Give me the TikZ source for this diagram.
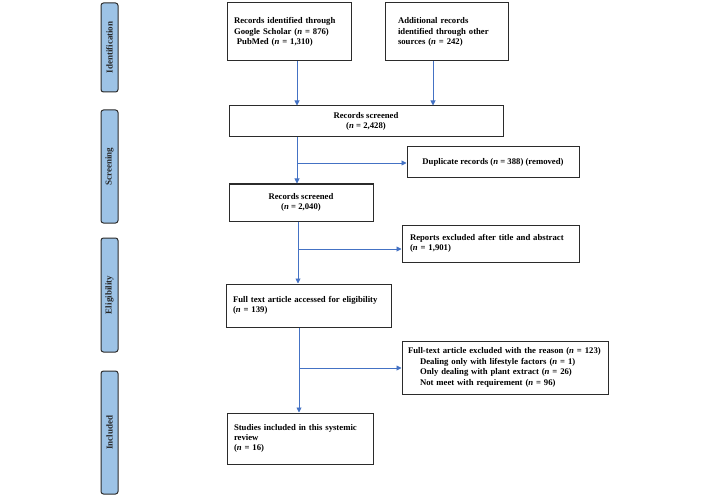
\documentclass[tikz,border=0pt]{standalone}
\usepackage{fontspec}
\setmainfont{Liberation Serif}
\usetikzlibrary{arrows.meta}
\definecolor{arrblue}{HTML}{4472C4}
\definecolor{lblue}{HTML}{9DC3E6}
\definecolor{edge}{HTML}{2B2B2B}
\tikzset{
  box/.style={draw=edge, line width=1pt, font=\bfseries\fontsize{8.7}{10.4}\selectfont, inner sep=0pt, anchor=center},
  phase/.style={draw=edge, fill=lblue, line width=1pt, rounded corners=2.5pt, rotate=90, minimum height=17pt, inner sep=0pt, font=\bfseries\fontsize{9}{10}\selectfont, text=black!85},
  arr/.style={draw=arrblue, line width=0.9pt, -{Triangle[length=5pt,width=5pt]}},
}
\begin{document}
\begin{tikzpicture}[x=1pt,y=-1pt]
\useasboundingbox (0,0) rectangle (706,497);
% phase labels
\node[phase, minimum width=89pt] (pid) at (109.5,47.5) {Identification};
\node[phase, minimum width=113pt] (psc) at (109.5,166.5) {Screening};
\node[phase, minimum width=114pt] (pel) at (109.5,295) {Eligibility};
\node[phase, minimum width=123pt] (pin) at (109.5,432.5) {Included};
% boxes
\node[box, minimum width=124pt, minimum height=58pt, text width=110pt, align=left] (b1) at (289,32)
  {Records identified through\\Google Scholar (\textit{n} = 876)\\\ PubMed (\textit{n} = 1,310)};
\node[box, minimum width=123pt, minimum height=58pt, text width=98pt, align=left] (b2) at (447,32)
  {Additional records\\identified through other\\sources (\textit{n} = 242)};
\node[box, minimum width=274pt, minimum height=31pt, align=center] (b3) at (366,121.5)
  {Records screened\\(\textit{n} = 2,428)};
\node[box, minimum width=172pt, minimum height=31pt, align=center] (dup) at (493,162.5)
  {Duplicate records (\textit{n} = 388) (removed)};
\node[box, minimum width=144pt, minimum height=37pt, align=center] (b4) at (301,202.5)
  {Records screened\\(\textit{n} = 2,040)};
\node[box, minimum width=177pt, minimum height=37pt, text width=161pt, align=left] (rep) at (490.5,243.5)
  {Reports excluded after title and abstract\\(\textit{n} = 1,901)};
\node[box, minimum width=165pt, minimum height=43pt, text width=151pt, align=left] (b5) at (308.5,305.5)
  {Full text article accessed for eligibility\\(\textit{n} = 139)};
\node[box, minimum width=206pt, minimum height=53pt, text width=194pt, align=left] (ft) at (505,367.5)
  {Full-text article excluded with the reason (\textit{n} = 123)\\
   \hspace*{12pt}Dealing only with lifestyle factors (\textit{n} = 1)\\
   \hspace*{12pt}Only dealing with plant extract (\textit{n} = 26)\\
   \hspace*{12pt}Not meet with requirement (\textit{n} = 96)};
\node[box, minimum width=146pt, minimum height=51pt, text width=132pt, align=left] (b6) at (300,438.5)
  {Studies included in this systemic\\review\\(\textit{n} = 16)};
% connectors
\coordinate (c1) at (297,0);
\coordinate (c2) at (433,0);
\draw[arr] (b1.south -| c1) -- (b3.north -| c1);
\draw[arr] (b2.south -| c2) -- (b3.north -| c2);
\coordinate (s1) at (297,163);
\draw[arr] (b3.south -| s1) -- (b4.north -| s1);
\draw[arr] (s1) -- (s1 -| dup.west);
\coordinate (s2) at (298,249);
\draw[arr] (b4.south -| s2) -- (b5.north -| s2);
\draw[arr] (s2) -- (s2 -| rep.west);
\coordinate (s3) at (299,368);
\draw[arr] (b5.south -| s3) -- (b6.north -| s3);
\draw[arr] (s3) -- (s3 -| ft.west);
\end{tikzpicture}
\end{document}
